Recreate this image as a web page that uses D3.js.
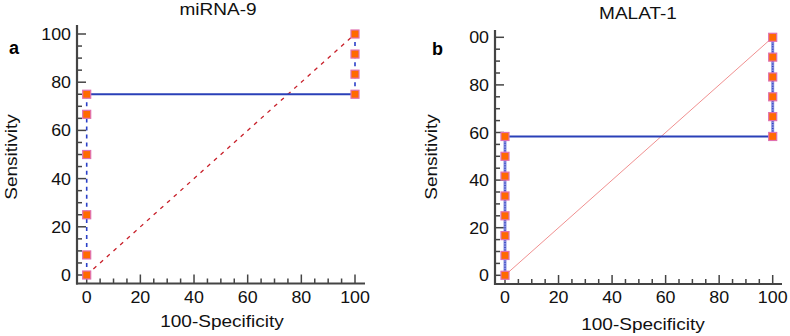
<!DOCTYPE html>
<html><head><meta charset="utf-8">
<script src="https://cdn.jsdelivr.net/npm/d3@7"></script>
<style>
body{margin:0;background:#fff;}
text{font-family:"Liberation Sans",Arial,sans-serif;}
</style></head>
<body><svg id="c" width="790" height="336"></svg>
<script>
// ---- data ----
const titles = ["miRNA-9", "MALAT-1"];
const panelLetters = ["a", "b"];
const xTicks = [0, 20, 40, 60, 80, 100];
const yTicks = [0, 20, 40, 60, 80, 100];
const xTickLabels = ["0", "20", "40", "60", "80", "100"];
const yTickLabelsA = ["0", "20", "40", "60", "80", "100"];
const yTickLabelsB = ["0", "20", "40", "60", "80", "00"];
// ROC points (100-Specificity, Sensitivity)
const rocA_x = [0, 0, 0, 0, 0, 0, 100, 100, 100, 100];
const rocA_y = [0, 8.33, 25, 50, 66.67, 75, 75, 83.33, 91.67, 100];
const rocB_x = [0, 0, 0, 0, 0, 0, 0, 0, 100, 100, 100, 100, 100, 100];
const rocB_y = [0, 8.33, 16.67, 25, 33.33, 41.67, 50, 58.33, 58.33, 66.67, 75, 83.33, 91.67, 100];
const diagonal = [0, 100];

const svg = d3.select("#c");
const SX = 1.12;
function stext(g, x, y, str, opts) {
  opts = opts || {};
  const rot = opts.rotate ? " rotate(-90)" : "";
  return g.append("text")
    .attr("transform", `translate(${x},${y})${rot} scale(${opts.sx || SX},1)`)
    .attr("text-anchor", opts.anchor || "middle")
    .attr("font-size", opts.size || 17)
    .attr("font-weight", opts.weight || "normal")
    .attr("fill", opts.fill || "#111")
    .text(str);
}

const panels = [
  {x0:86.7, x1:355, y0:275, y1:34, axX:77, axY:283.5, axTop:25, axRight:365,
   rx:rocA_x, ry:rocA_y, yl:yTickLabelsA, title:titles[0], letter:panelLetters[0],
   titleX:218, titleY:15, letX:9, letY:54, ylabX:17, ylabY:157, xlabX:222, xlabY:327, diagStyle:"a"},
  {x0:505, x1:772.7, y0:275.3, y1:37.3, axX:495, axY:284, axTop:30, axRight:782,
   rx:rocB_x, ry:rocB_y, yl:yTickLabelsB, title:titles[1], letter:panelLetters[1],
   titleX:638, titleY:19, letX:432, letY:55, ylabX:437, ylabY:157, xlabX:643, xlabY:330, diagStyle:"b"}
];

panels.forEach(p => {
  const g = svg.append("g");
  const x = d3.scaleLinear().domain([0,100]).range([p.x0, p.x1]);
  const y = d3.scaleLinear().domain([0,100]).range([p.y0, p.y1]);
  const axisCol = "#444";

  // ticks (minor every 5, major every 20)
  const minor = d3.range(0, 101, 5);
  minor.forEach(v => {
    const major = v % 20 === 0;
    const len = major ? 9 : 5;
    g.append("line").attr("x1", x(v)).attr("x2", x(v))
      .attr("y1", p.axY).attr("y2", p.axY - len)
      .attr("stroke", axisCol).attr("stroke-width", 1.5);
    g.append("line").attr("y1", y(v)).attr("y2", y(v))
      .attr("x1", p.axX).attr("x2", p.axX + len)
      .attr("stroke", axisCol).attr("stroke-width", 1.5);
  });
  // axis lines
  g.append("line").attr("x1", p.axX).attr("x2", p.axX).attr("y1", p.axTop).attr("y2", p.axY + 1)
    .attr("stroke", axisCol).attr("stroke-width", 2.2);
  g.append("line").attr("x1", p.axX - 1).attr("x2", p.axRight).attr("y1", p.axY).attr("y2", p.axY)
    .attr("stroke", axisCol).attr("stroke-width", 2.2);

  // tick labels
  xTicks.forEach((v, i) => {
    stext(g, x(v), p.axY + 19, xTickLabels[i], {size: 16.5, sx: 1.08});
  });
  yTicks.forEach((v, i) => {
    stext(g, p.axX - 6, y(v) + 6, p.yl[i], {size: 16.5, sx: 1.08, anchor: "end"});
  });

  // diagonal reference
  const line = d3.line().x(d => x(d[0])).y(d => y(d[1]));
  const diag = diagonal.map(v => [v, v]);
  if (p.diagStyle === "a") {
    g.append("path").attr("d", line(diag)).attr("fill", "none")
      .attr("stroke", "#c8202a").attr("stroke-width", 1.3).attr("stroke-dasharray", "4,5");
  } else {
    g.append("path").attr("d", line(diag)).attr("fill", "none")
      .attr("stroke", "#f09090").attr("stroke-width", 1);
  }

  // ROC segments
  const pts = p.rx.map((v, i) => [v, p.ry[i]]);
  for (let i = 0; i < pts.length - 1; i++) {
    const a = pts[i], b = pts[i + 1];
    const seg = g.append("line").attr("x1", x(a[0])).attr("y1", y(a[1]))
      .attr("x2", x(b[0])).attr("y2", y(b[1])).attr("fill", "none");
    if (a[0] !== b[0]) {
      seg.attr("stroke", "#2a40b8").attr("stroke-width", 2);
    } else if (p.diagStyle === "a") {
      seg.attr("stroke", "#2a40c8").attr("stroke-width", 1.6).attr("stroke-dasharray", "4,4");
    } else {
      seg.attr("stroke", "#8890e0").attr("stroke-width", 3);
      g.append("line").attr("x1", x(a[0])).attr("y1", y(a[1]))
        .attr("x2", x(b[0])).attr("y2", y(b[1]))
        .attr("stroke", "#3040c0").attr("stroke-width", 1.5).attr("stroke-dasharray", "1,1.5");
    }
  }

  // markers
  g.selectAll("rect.m").data(pts).enter().append("rect")
    .attr("x", d => x(d[0]) - 4).attr("y", d => y(d[1]) - 4)
    .attr("width", 8).attr("height", 8)
    .attr("fill", "#ff6a00").attr("stroke", "#e070b0").attr("stroke-width", 1.2);

  // titles and labels
  stext(g, p.titleX, p.titleY, p.title, {size: 17});
  stext(g, p.letX, p.letY, p.letter, {size: 18, weight: "bold", anchor: "start", sx: 1, fill: "#000"});
  stext(g, p.ylabX, p.ylabY, "Sensitivity", {size: 17, rotate: true});
  stext(g, p.xlabX, p.xlabY, "100-Specificity", {size: 17});
});
</script></body></html>
